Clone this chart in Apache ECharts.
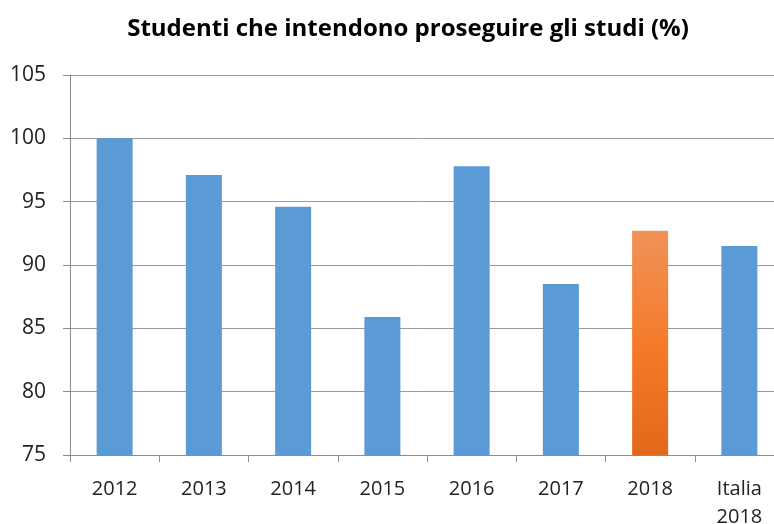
<!DOCTYPE html>
<html>
<head>
    <meta charset="utf-8">
    <title>Studenti</title>
    <script src="https://cdn.jsdelivr.net/npm/echarts@6/dist/echarts.min.js"></script>
    <style>
        html, body { margin: 0; padding: 0; background: #fff; }
        #main { width: 774px; height: 524px; }
    </style>
</head>
<body>
    <div id="main"></div>
    <script type="text/javascript">
        var categories = ['2012', '2013', '2014', '2015', '2016', '2017', '2018', 'Italia\n2018'];
        var values = [100, 97.1, 94.6, 85.9, 97.8, 88.5, 92.7, 91.5];
        var highlight = '2018';

        var blue = '#5B9BD5';
        var orange = new echarts.graphic.LinearGradient(0, 0, 0, 1, [
            { offset: 0, color: '#F09258' },
            { offset: 0.5, color: '#F57B2B' },
            { offset: 1, color: '#E2691A' }
        ]);

        var data = [];
        for (var i = 0; i < values.length; i++) {
            data.push({
                value: values[i],
                itemStyle: { color: categories[i] == highlight ? orange : blue }
            });
        }

        var myChart = echarts.init(document.getElementById('main'));
        var option = {
            animation: false,
            title: {
                text: 'Studenti che intendono proseguire gli studi (%)',
                left: 403,
                top: 12,
                textAlign: 'center',
                textStyle: { fontFamily: 'Open Sans', fontSize: 24, fontWeight: 'bold', color: '#000' }
            },
            grid: { left: 70, right: -10, top: 75, bottom: 69, containLabel: false, outerBoundsMode: 'none' },
            xAxis: {
                type: 'category',
                data: categories,
                axisLine: { lineStyle: { color: '#8c8c8c' } },
                axisTick: { show: true, length: 7, lineStyle: { color: '#8c8c8c' } },
                axisLabel: { fontFamily: 'Open Sans', fontSize: 20, color: '#222', margin: 20, lineHeight: 28 }
            },
            yAxis: {
                type: 'value',
                min: 75,
                max: 105,
                interval: 5,
                axisLine: { show: true, lineStyle: { color: '#8c8c8c' } },
                axisTick: { show: true, length: 7, inside: false, lineStyle: { color: '#8c8c8c' } },
                splitLine: { lineStyle: { color: '#9a9a9a' } },
                axisLabel: { fontFamily: 'Open Sans', fontSize: 21, color: '#222', margin: 24 }
            },
            series: [{
                type: 'bar',
                data: data,
                barWidth: 36
            }]
        };
        myChart.setOption(option);
    </script>
</body>
</html>
